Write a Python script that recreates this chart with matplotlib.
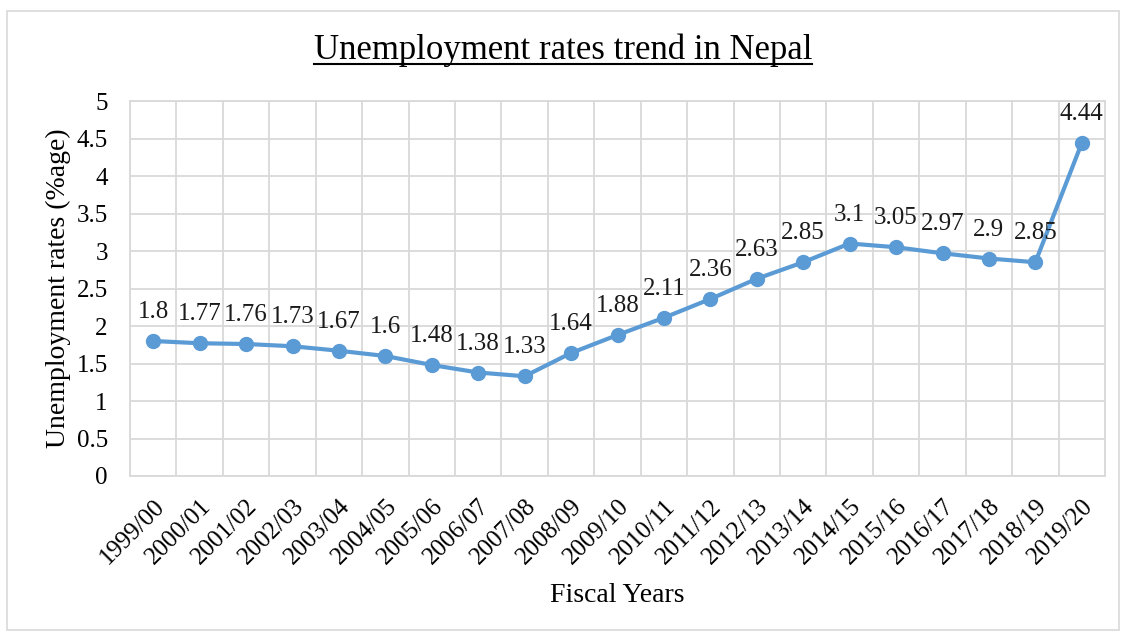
import numpy as np
import matplotlib
matplotlib.use("Agg")
import matplotlib.pyplot as plt
from matplotlib.patches import Rectangle
from matplotlib.lines import Line2D

years = ["1999/00", "2000/01", "2001/02", "2002/03", "2003/04", "2004/05",
         "2005/06", "2006/07", "2007/08", "2008/09", "2009/10", "2010/11",
         "2011/12", "2012/13", "2013/14", "2014/15", "2015/16", "2016/17",
         "2017/18", "2018/19", "2019/20"]
rates = [1.8, 1.77, 1.76, 1.73, 1.67, 1.6, 1.48, 1.38, 1.33, 1.64, 1.88,
         2.11, 2.36, 2.63, 2.85, 3.1, 3.05, 2.97, 2.9, 2.85, 4.44]
yticks = [0, 0.5, 1, 1.5, 2, 2.5, 3, 3.5, 4, 4.5, 5]

plt.rcParams['font.family'] = ['Liberation Serif', 'DejaVu Serif']
grid_c = '#D9D9D9'
line_c = '#5B9BD5'

fig = plt.figure(figsize=(11.26, 6.35), dpi=100)
ax = fig.add_axes([130 / 1126, 1 - 476 / 635, (1105 - 130) / 1126, (476 - 101) / 635])

x = np.arange(len(years))
ax.plot(x, rates, color=line_c, linewidth=3.0, marker='o', markersize=10,
        solid_joinstyle='round', zorder=3)
for xi, v in zip(x, rates):
    ax.annotate(f"{v:g}", (xi, v), xytext=(0, 16.5), textcoords='offset points',
                ha='center', va='baseline', fontsize=18, color='#1a1a1a', zorder=4)

ax.set_xlim(-0.5, len(years) - 0.5)
ax.set_ylim(0, 5)
ax.set_yticks(yticks)
ax.set_yticklabels([f"{t:g}" for t in yticks], fontsize=18)
ax.set_xticks(x)
ax.set_xticklabels(years, rotation=45, ha='right', rotation_mode='anchor', fontsize=18)
ax.set_xticks(np.arange(-0.5, len(years)), minor=True)
ax.tick_params(axis='both', which='both', length=0)
ax.tick_params(axis='x', which='major', pad=14)
ax.tick_params(axis='y', pad=16)
ax.grid(True, axis='y', which='major', color=grid_c, linewidth=1.3)
ax.grid(True, axis='x', which='minor', color=grid_c, linewidth=1.3)
ax.grid(False, axis='x', which='major')
for sp in ax.spines.values():
    sp.set_color(grid_c)
    sp.set_linewidth(1.3)
ax.set_axisbelow(True)

ax.set_ylabel("Unemployment rates (%age)", fontsize=20, labelpad=4)
ax.set_xlabel("Fiscal Years", fontsize=20, labelpad=10)

title = fig.text(0.5, 1 - 50 / 635, "Unemployment rates trend in Nepal",
                 ha='center', va='center', fontsize=25)

# outer chart frame
fig.patches.append(Rectangle((7 / 1126, 5 / 635), 1112 / 1126, 619 / 635,
                             transform=fig.transFigure, fill=False,
                             edgecolor=grid_c, linewidth=1.2))

# underline the title
fig.canvas.draw()
bb = title.get_window_extent().transformed(fig.transFigure.inverted())
fig.lines.append(Line2D([bb.x0, bb.x1], [bb.y0 + 0.004, bb.y0 + 0.004],
                        transform=fig.transFigure, color='black', linewidth=1.5))

fig.savefig("out.png", dpi=100)
